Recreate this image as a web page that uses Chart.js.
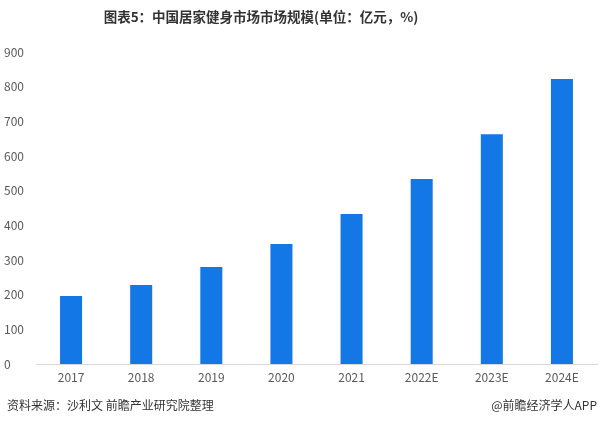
<!DOCTYPE html>
<html>
<head>
<meta charset="utf-8">
<script src="https://cdn.jsdelivr.net/npm/chart.js@4.4.0/dist/chart.umd.min.js"></script>
<style>
  body { margin: 0; background: #fff; }
  #wrap { position: relative; width: 600px; height: 425px; overflow: hidden; }
  #title { position: absolute; left: 0; width: 522px; top: 6px; text-align: center;
    font: bold 13.5px "Noto Sans CJK SC", sans-serif; color: #333; }
  .foot { position: absolute; top: 396px; font: 12px "Noto Sans CJK SC", sans-serif; color: #333; }
  #src { left: 7px; }
  #app { right: 3px; }
  canvas { position: absolute; left: 0; top: 0; }
</style>
</head>
<body>
<div id="wrap">
  <canvas id="chart" width="600" height="425"></canvas>
  <div id="title">图表5：中国居家健身市场市场规模(单位：亿元，%)</div>
  <div class="foot" id="src">资料来源：沙利文 前瞻产业研究院整理</div>
  <div class="foot" id="app">@前瞻经济学人APP</div>
</div>
<script>
const years = ["2017", "2018", "2019", "2020", "2021", "2022E", "2023E", "2024E"];
const marketSize = [196, 228, 280, 346, 433, 534, 663, 822];
const yTicks = [0, 100, 200, 300, 400, 500, 600, 700, 800, 900];

const ctx = document.getElementById("chart").getContext("2d");
new Chart(ctx, {
  type: "bar",
  data: {
    labels: years,
    datasets: [{
      data: marketSize,
      backgroundColor: "#1477e6",
      borderWidth: 0,
      categoryPercentage: 1,
      barPercentage: 0.314
    }]
  },
  options: {
    responsive: false,
    animation: false,
    layout: { padding: { left: 4, right: 3, top: 52, bottom: 40 } },
    plugins: { legend: { display: false }, tooltip: { enabled: false } },
    scales: {
      x: {
        grid: { display: false, drawTicks: false },
        border: { color: "#d9d9d9" },
        ticks: { color: "#595959", font: { size: 12, family: "Noto Sans CJK SC" }, padding: 6 },
        afterFit: (s) => { s.height = 21; }
      },
      y: {
        min: 0, max: 900,
        afterBuildTicks: (s) => { s.ticks = yTicks.map(v => ({ value: v })); },
        grid: { display: false, drawTicks: false },
        border: { display: false },
        ticks: { color: "#595959", font: { size: 12, family: "Noto Sans CJK SC" }, crossAlign: "far", padding: 6 },
        afterFit: (s) => { s.width = 32; }
      }
    }
  }
});
</script>
</body>
</html>
